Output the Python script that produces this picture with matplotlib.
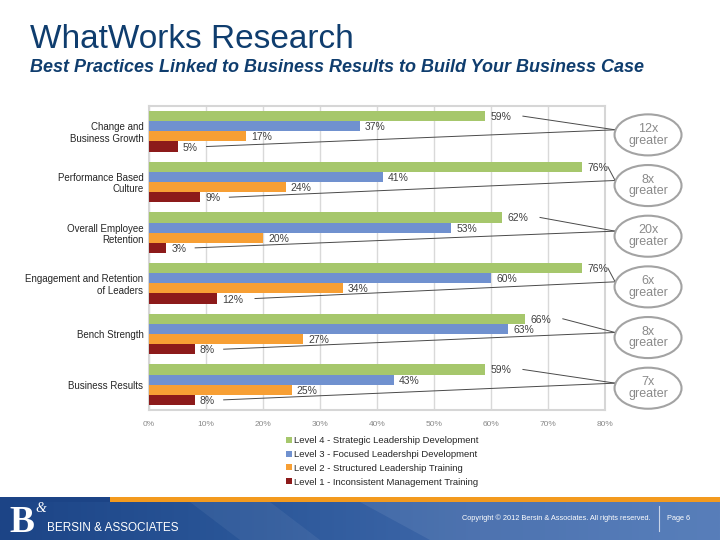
import matplotlib
matplotlib.use("Agg")
import matplotlib.pyplot as plt
import numpy as np
from matplotlib.patches import Ellipse, Rectangle, Polygon
from matplotlib.colors import LinearSegmentedColormap

plt.rcParams['font.family'] = ['Liberation Sans', 'DejaVu Sans']

categories = ["Change and\nBusiness Growth", "Performance Based\nCulture",
              "Overall Employee\nRetention", "Engagement and Retention\nof Leaders",
              "Bench Strength", "Business Results"]
level4 = [59, 76, 62, 76, 66, 59]
level3 = [37, 41, 53, 60, 63, 43]
level2 = [17, 24, 20, 34, 27, 25]
level1 = [5, 9, 3, 12, 8, 8]
multipliers = ["12x", "8x", "20x", "6x", "8x", "7x"]
series_names = ["Level 4 - Strategic Leadership Development",
                "Level 3 - Focused Leadershpi Development",
                "Level 2 - Structured Leadership Training",
                "Level 1 - Inconsistent Management Training"]
colors = ["#a6c76c", "#7091cf", "#f79f34", "#8c1a1a"]
xticks = [0, 10, 20, 30, 40, 50, 60, 70, 80]
xticklabels = ["0%", "10%", "20%", "30%", "40%", "50%", "60%", "70%", "80%"]

W, H = 720, 540
fig = plt.figure(figsize=(7.2, 5.4), dpi=100)
fig.patch.set_facecolor("white")

ax = fig.add_axes([149 / W, 1 - 410 / H, (605 - 149) / W, (410 - 106) / H])
y = np.arange(len(categories))
bh = 0.2
series = [level4, level3, level2, level1]
offsets = [-0.3, -0.1, 0.1, 0.3]
handles = []
for vals, off, col, name in zip(series, offsets, colors, series_names):
    b = ax.barh(y + off, vals, height=bh, color=col, label=name, zorder=3)
    handles.append(b)
    for yi, v in zip(y, vals):
        ax.text(v + 0.9, yi + off + 0.02, f"{v}%", va="center", ha="left",
                fontsize=7.5, color="#404040", zorder=4)

ax.set_xlim(0, 80)
ax.set_ylim(len(categories) - 0.5, -0.5)
ax.set_xticks(xticks)
ax.set_xticklabels(xticklabels, fontsize=6, color="#8a8a8a")
ax.set_yticks(y)
ax.set_yticklabels(categories, fontsize=7, color="#262626", linespacing=1.15)
ax.tick_params(axis="both", length=0)
ax.tick_params(axis="x", pad=8)
ax.tick_params(axis="y", pad=4)
ax.grid(axis="x", color="#d9d9d9", lw=1, zorder=0)
for s in ax.spines.values():
    s.set_color("#d6d6d6")
    s.set_linewidth(1.5)

# ellipses and connector lines
ecx, ew, eh = 87.55, 11.75, 0.81
for yi, v4, v1, m in zip(y, level4, level1, multipliers):
    ecy = yi + 0.07
    ell = Ellipse((ecx, ecy), ew, eh, facecolor="white", edgecolor="#a3a3a3",
                  lw=1.5, clip_on=False, zorder=5)
    ax.add_patch(ell)
    ax.text(ecx, ecy, f"{m}\ngreater", ha="center", va="center", fontsize=9,
            color="#8a8a8a", linespacing=0.95, clip_on=False, zorder=6)
    endx, endy = ecx - ew / 2 + 0.1, ecy - 0.1
    for v, off in ((v4, -0.3), (v1, 0.3)):
        sx = min(v + 3.6 + 1.5 * len(str(v)), 80.5)
        ax.plot([sx, endx], [yi + off, endy], color="#4a4a4a", lw=0.7,
                clip_on=False, zorder=4)

fig.legend(handles=handles, loc="upper left",
           bbox_to_anchor=(286 / W, 1 - 436 / H), frameon=False,
           fontsize=6.8, handlelength=0.6, handleheight=0.6,
           handletextpad=0.2, labelspacing=0.52, borderpad=0, borderaxespad=0,
           labelcolor="#262626")

# titles
fig.text(30 / W, 1 - 39 / H, "WhatWorks Research", fontsize=24, color="#0f3d6e",
         ha="left", va="center")
fig.text(30 / W, 1 - 68 / H,
         "Best Practices Linked to Business Results to Build Your Business Case",
         fontsize=13, color="#0f3d6e", ha="left", va="center",
         fontweight="bold", fontstyle="italic")

# footer band
fax = fig.add_axes([0, 0, 1, 43 / H])
fax.set_xlim(0, W)
fax.set_ylim(43, 0)
fax.axis("off")
grad = np.linspace(0, 1, 256).reshape(1, -1)
cmap = LinearSegmentedColormap.from_list("b", ["#1c4486", "#2a5698", "#3f68aa", "#4a74b5"])
fax.imshow(grad, cmap=cmap, extent=(0, W, 43, 0), aspect="auto", zorder=0)
fax.add_patch(Polygon([(190, 5), (270, 5), (320, 43), (240, 43)], closed=True,
                      facecolor="#ffffff", alpha=0.06, lw=0, zorder=1))
fax.add_patch(Polygon([(360, 5), (720, 5), (720, 43), (430, 43)], closed=True,
                      facecolor="#ffffff", alpha=0.08, lw=0, zorder=1))
fax.add_patch(Rectangle((110, 0), W - 110, 5, facecolor="#f39a1e", lw=0, zorder=2))
fax.add_patch(Rectangle((0, 0), 110, 5, facecolor="#1c4486", lw=0, zorder=2))
fax.text(9, 35, "B", fontsize=27, color="white", family="Liberation Serif",
         fontweight="bold", ha="left", va="baseline", zorder=3)
fax.text(35, 12, "&", fontsize=10, color="white", family="Liberation Serif",
         fontstyle="italic", ha="left", va="center", zorder=3)
fax.text(47, 31, "BERSIN & ASSOCIATES", fontsize=8.5, color="white",
         ha="left", va="center", zorder=3)
fax.text(651, 21, "Copyright \u00a9 2012 Bersin & Associates. All rights reserved.",
         fontsize=5.3, color="white", ha="right", va="center", zorder=3)
fax.plot([659, 659], [9, 34], color="#c8d4e8", lw=0.8, zorder=3)
fax.text(667, 21, "Page 6", fontsize=5.3, color="white", ha="left", va="center", zorder=3)

fig.savefig("out.png", dpi=100)
